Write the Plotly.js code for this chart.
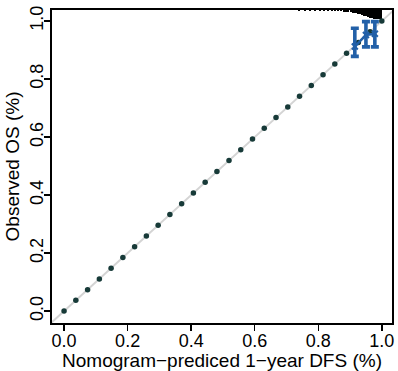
<!DOCTYPE html>
<html>
<head>
<meta charset="utf-8">
<script src="https://cdn.plot.ly/plotly-3.0.1.min.js"></script>
<style>
html,body{margin:0;padding:0;background:#fff;}
#chart{width:398px;height:371px;}
</style>
</head>
<body>
<div id="chart"></div>
<script>
// Reference diagonal points (dark dots along the ideal line)
const diagX = [0.000,0.037,0.074,0.111,0.148,0.185,0.222,0.259,0.296,0.333,0.370,0.407,0.444,0.481,0.519,0.556,0.593,0.630,0.667,0.704,0.741,0.778,0.815,0.852,0.889,0.926,0.963,1.000];
const diagY = [0.000,0.037,0.074,0.111,0.148,0.185,0.222,0.259,0.296,0.333,0.370,0.407,0.444,0.481,0.519,0.556,0.593,0.630,0.667,0.704,0.741,0.778,0.815,0.852,0.889,0.926,0.963,1.000];

// Ideal 45-degree reference line
const idealX = [-0.1, 1.1];
const idealY = [-0.1, 1.1];

// Calibration groups: mean predicted vs observed with CI
const calX  = [0.915, 0.950, 0.978];
const calY  = [0.912, 0.952, 0.956];
const calLo = [0.878, 0.911, 0.911];
const calHi = [0.975, 0.998, 0.998];

// Distribution of predicted values (spike histogram at the top)
const rugX = [0.740,0.757,0.775,0.790,0.805,0.818,0.830,0.842,0.853,0.863,0.872,0.880,0.888,0.895,0.902,0.908,0.914,0.920,0.926,0.932,0.938,0.944,0.950,0.956,0.962,0.968,0.974,0.980,0.986,0.992,0.998];
const rugN = [0.8,0.8,0.8,0.8,0.8,0.8,1,1,1,1.2,1.2,1.5,1.5,1.8,2,2.5,3,3.3,3.8,4.3,5,5.6,6.3,7,7.6,8.2,8.6,9,9.2,9.3,9.3];

const xTicks = [0,0.2,0.4,0.6,0.8,1.0];
const xTickText = ['0.0','0.2','0.4','0.6','0.8','1.0'];
const yTicks = [0,0.2,0.4,0.6,0.8,1.0];
const yTickText = ['0.0','0.2','0.4','0.6','0.8','1.0'];

const xRange = [-0.038, 1.032];
const yRange = [-0.041, 1.038];
const pxPerUnitY = 290;

const traces = [
  {
    x: idealX, y: idealY, type: 'scatter', mode: 'lines',
    line: {color: '#d4d4d4', width: 2}, hoverinfo: 'skip', showlegend: false
  },
  {
    x: diagX, y: diagY, type: 'scatter', mode: 'markers',
    marker: {color: '#173a38', size: 5.5}, showlegend: false
  },
  {
    x: rugX, y: rugN.map(v => -v / pxPerUnitY),
    base: rugX.map(() => yRange[1]),
    type: 'bar', width: 0.0062,
    marker: {color: '#000000', line: {width: 0}}, showlegend: false
  },
  {
    x: calX, y: calY, type: 'scatter', mode: 'lines+markers',
    line: {color: '#2260a8', width: 2.5},
    marker: {color: '#2260a8', size: 6, symbol: 'x-thin-open', line: {color: '#2260a8', width: 2}},
    error_y: {
      type: 'data', symmetric: false,
      array: calHi.map((h, i) => h - calY[i]),
      arrayminus: calLo.map((l, i) => calY[i] - l),
      color: '#2260a8', thickness: 3.6, width: 4
    },
    showlegend: false
  }
];

const tickFont = {family: 'Liberation Sans, Arial, sans-serif', size: 18, color: '#000'};
const titleFont = {family: 'Liberation Sans, Arial, sans-serif', size: 19, color: '#000'};

const layout = {
  width: 398, height: 371,
  margin: {l: 52, r: 6, t: 10, b: 48, pad: 0},
  paper_bgcolor: '#fff', plot_bgcolor: '#fff',
  showlegend: false,
  bargap: 0,
  xaxis: {
    range: xRange, tickvals: xTicks, ticktext: xTickText,
    showline: true, linecolor: '#000', linewidth: 1.6, mirror: true,
    ticks: 'outside', ticklen: 6, tickwidth: 1.4, tickcolor: '#000',
    showgrid: false, zeroline: false,
    tickfont: tickFont, ticklabelstandoff: -5,
    title: {text: 'Nomogram\u2212prediced 1\u2212year DFS (%)', font: titleFont, standoff: 0}
  },
  yaxis: {
    range: yRange, tickvals: yTicks, ticktext: yTickText, tickangle: -90,
    showline: true, linecolor: '#000', linewidth: 1.6, mirror: true,
    ticks: 'outside', ticklen: 6, tickwidth: 1.4, tickcolor: '#000',
    showgrid: false, zeroline: false,
    tickfont: tickFont, ticklabelstandoff: -6,
    title: {text: 'Observed OS (%)', font: titleFont, standoff: 2}
  }
};

Plotly.newPlot('chart', traces, layout, {displayModeBar: false, staticPlot: true});
</script>
</body>
</html>
